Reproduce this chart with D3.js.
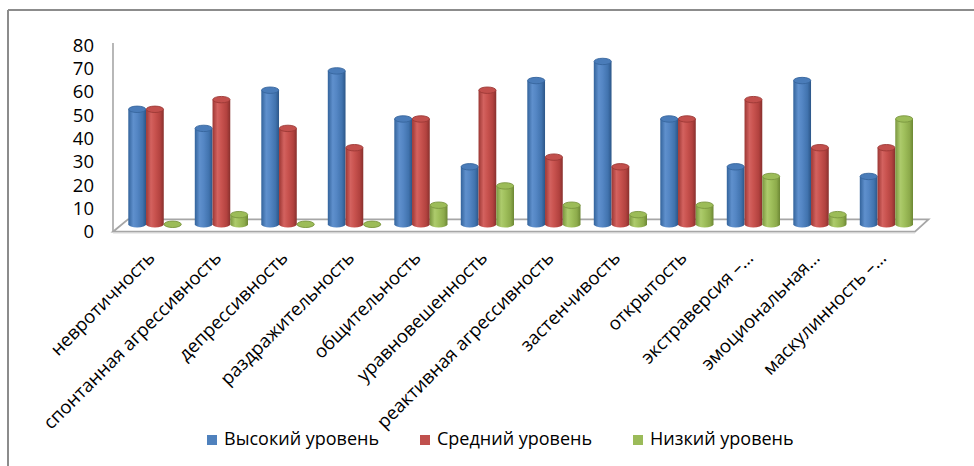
<!DOCTYPE html>
<html>
<head>
<meta charset="utf-8">
<script src="https://cdn.jsdelivr.net/npm/d3@7/dist/d3.min.js"></script>
<style>
  html, body { margin: 0; padding: 0; background: #ffffff; }
  svg { display: block; }
  text { font-family: "Open Sans", "DejaVu Sans", sans-serif; fill: #000; }
</style>
</head>
<body>
<svg id="chart" width="974" height="466"></svg>
<script>
// Personality scales (FPI), share of respondents per level, %
const categories = [
  "невротичность",
  "спонтанная агрессивность",
  "депрессивность",
  "раздражительность",
  "общительность",
  "уравновешенность",
  "реактивная агрессивность",
  "застенчивость",
  "открытость",
  "экстраверсия –…",
  "эмоциональная…",
  "маскулинность –…"
];
const seriesNames = ["Высокий уровень", "Средний уровень", "Низкий уровень"];
const highLevel   = [50, 41.7, 58.3, 66.7, 45.8, 25, 62.5, 70.8, 45.8, 25, 62.5, 20.8];
const mediumLevel = [50, 54.2, 41.7, 33.3, 45.8, 58.3, 29.2, 25, 45.8, 54.2, 33.3, 33.3];
const lowLevel    = [0, 4.2, 0, 0, 8.3, 16.7, 8.3, 4.2, 8.3, 20.8, 4.2, 45.8];
const yTicks = [0, 10, 20, 30, 40, 50, 60, 70, 80];

const seriesValues = [highLevel, mediumLevel, lowLevel];
const palette = [
  { key: "blue",  base: "#4f81bd", stops: ["#33639b", "#5f90cd", "#5486c4", "#4173ae", "#2c5688"], top: "#4a7cb9", edge: "#37659d" },
  { key: "red",   base: "#c0504d", stops: ["#9c3734", "#d3625f", "#c9534f", "#b2423f", "#88302d"], top: "#c24f4c", edge: "#9c3936" },
  { key: "green", base: "#9bbb59", stops: ["#7a963f", "#adcb6c", "#a0c05c", "#8dab4b", "#6c8734"], top: "#9cbc58", edge: "#7a963f" }
];

const svg = d3.select("#chart");
const defs = svg.append("defs");
palette.forEach(p => {
  const g = defs.append("linearGradient")
    .attr("id", "grad-" + p.key)
    .attr("x1", "0%").attr("x2", "100%").attr("y1", "0%").attr("y2", "0%");
  [0, 0.28, 0.5, 0.8, 1].forEach((o, i) => {
    g.append("stop").attr("offset", o).attr("stop-color", p.stops[i]);
  });
});

// Outer frame (top and left edges)
svg.append("line").attr("x1", 8).attr("y1", 10).attr("x2", 974).attr("y2", 10)
  .attr("stroke", "#8c8c8c").attr("stroke-width", 2);
svg.append("line").attr("x1", 8).attr("y1", 10).attr("x2", 8).attr("y2", 466)
  .attr("stroke", "#8c8c8c").attr("stroke-width", 2);

// Scales: the column plane sits a little behind the front of the floor
const x = d3.scaleBand().domain(categories).range([121.65, 919.65])
  .paddingInner(0.2).paddingOuter(0.1);
const xs = d3.scaleBand().domain(d3.range(seriesNames.length)).range([0, x.bandwidth()]);
const y = d3.scaleLinear().domain([0, 80]).range([224.3, 40.3]);
const yFront = d3.scaleLinear().domain([0, 80]).range([231.7, 45]);

// Wall edge and floor
svg.append("line").attr("x1", 113).attr("y1", yFront(80) - 2).attr("x2", 113).attr("y2", yFront(0))
  .attr("stroke", "#a6a6a6").attr("stroke-width", 1.6);
const floorPts = [[113, 231.7], [915, 231.7], [928.5, 219.3], [128, 219.3]];
svg.append("polygon")
  .attr("points", floorPts.map(p => p.join(",")).join(" "))
  .attr("fill", "#ffffff").attr("stroke", "#a6a6a6").attr("stroke-width", 1.8)
  .attr("stroke-linejoin", "miter");
svg.append("line").attr("x1", 113).attr("y1", 233).attr("x2", 915).attr("y2", 233)
  .attr("stroke", "#d9d9d9").attr("stroke-width", 1);

// Y axis tick labels
const yAxis = d3.axisLeft(yFront).tickValues(yTicks).tickSize(0).tickPadding(0);
const yG = svg.append("g").attr("transform", "translate(94,0)").call(yAxis);
yG.select(".domain").remove();
yG.selectAll("text").attr("font-size", 18.5).attr("font-family", "'Open Sans', sans-serif")
  .attr("fill", "#000").attr("dy", "0.34em");

// Cylindrical columns
const ry = 3.2;
const bars = [];
categories.forEach((c, ci) => {
  seriesValues.forEach((vals, si) => {
    bars.push({ cat: c, s: si, v: vals[ci] });
  });
});

const barG = svg.append("g");
bars.forEach(d => {
  const p = palette[d.s];
  const left = x(d.cat) + xs(d.s);
  const w = xs.bandwidth();
  const rx = w / 2;
  const cx = left + rx;
  const yb = y(0);
  const yt = y(d.v);
  const g = barG.append("g");
  g.append("path")
    .attr("d", `M${left},${yt} L${left},${yb} A${rx},${ry} 0 0 0 ${left + w},${yb} L${left + w},${yt} Z`)
    .attr("fill", `url(#grad-${p.key})`);
  g.append("ellipse")
    .attr("cx", cx).attr("cy", yt).attr("rx", rx - 0.3).attr("ry", ry)
    .attr("fill", p.top).attr("stroke", p.edge).attr("stroke-width", 0.9);
});

// Category labels, rotated
const labelG = svg.append("g");
categories.forEach(c => {
  const cx = x(c) + x.bandwidth() / 2;
  labelG.append("text")
    .attr("transform", `translate(${cx + 1},259) rotate(-45)`)
    .attr("text-anchor", "end")
    .attr("font-size", 18.5)
    .text(c);
});

// Legend
const legend = svg.append("g");
const legendX = d3.scalePoint().domain(seriesNames).range([207, 633]);
seriesNames.forEach((n, i) => {
  const lx = legendX(n);
  legend.append("rect").attr("x", lx).attr("y", 435).attr("width", 10).attr("height", 10)
    .attr("fill", palette[i].base);
  legend.append("text").attr("x", lx + 17).attr("y", 445).attr("font-size", 18).text(n);
});
</script>
</body>
</html>
